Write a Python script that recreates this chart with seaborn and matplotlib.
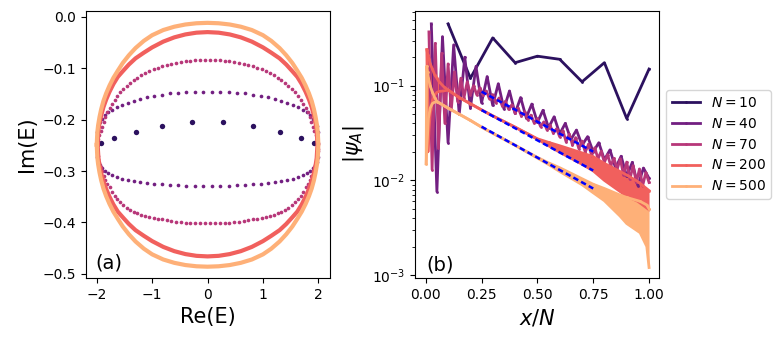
import numpy as np
import matplotlib
matplotlib.use("Agg")
import matplotlib.pyplot as plt
import seaborn as sns

# ---------------- (a) spectrum, values ----------------
re10 = [-1.92, -1.68, -1.30, -0.82, -0.28, 0.28, 0.82, 1.30, 1.68, 1.92]
im10 = [-0.246, -0.236, -0.2235, -0.2125, -0.2055, -0.2055, -0.2125, -0.2235, -0.236, -0.246]

# right half (Re > 0) of the two arcs, left half is the mirror image
re40 = [0.077, 0.230, 0.381, 0.530, 0.680, 0.821, 0.958, 1.089, 1.214, 1.331,
        1.441, 1.543, 1.636, 1.719, 1.792, 1.855, 1.907, 1.947, 1.977, 1.994]
im40_up = [-0.1457, -0.1457, -0.1463, -0.1476, -0.149, -0.1515, -0.1534, -0.1567, -0.160, -0.163,
           -0.167, -0.1716, -0.1755, -0.1806, -0.1858, -0.1916, -0.198, -0.2046, -0.2117, -0.225]
im40_dn = [-0.329, -0.329, -0.3284, -0.3277, -0.3271, -0.3258, -0.3245, -0.3232, -0.3219, -0.320,
           -0.318, -0.3155, -0.3122, -0.3083, -0.3038, -0.2993, -0.2941, -0.2883, -0.2831, -0.272]

re70 = [0.044, 0.133, 0.221, 0.308, 0.396, 0.482, 0.567, 0.652, 0.735, 0.816,
        0.895, 0.974, 1.050, 1.124, 1.196, 1.266, 1.333, 1.398, 1.460, 1.520,
        1.575, 1.628, 1.678, 1.725, 1.768, 1.807, 1.843, 1.876, 1.905, 1.930,
        1.951, 1.969, 1.982, 1.992, 1.998]
im70_up = [-0.084, -0.0843, -0.0848, -0.0855, -0.0865, -0.088, -0.0895, -0.0915, -0.0935, -0.0965,
           -0.0995, -0.1025, -0.106, -0.110, -0.114, -0.119, -0.124, -0.129, -0.135, -0.141,
           -0.147, -0.154, -0.162, -0.169, -0.178, -0.185, -0.195, -0.205, -0.215, -0.223,
           -0.230, -0.237, -0.241, -0.246, -0.248]
im70_dn = [-0.402, -0.4018, -0.4015, -0.401, -0.4003, -0.3995, -0.3985, -0.397, -0.3955, -0.394,
           -0.3925, -0.391, -0.389, -0.387, -0.385, -0.382, -0.379, -0.375, -0.371, -0.366,
           -0.360, -0.354, -0.349, -0.340, -0.332, -0.325, -0.318, -0.309, -0.300, -0.292,
           -0.285, -0.277, -0.270, -0.262, -0.257]

# N=200 and N=500 are so dense they look like closed rings (right half)
re200 = [0.0, 0.2, 0.4, 0.6, 0.8, 1.0, 1.15, 1.3, 1.42, 1.53,
         1.62, 1.7, 1.77, 1.83, 1.88, 1.92, 1.95, 1.97, 1.985]
im200_up = [-0.030, -0.0311, -0.0345, -0.0402, -0.0485, -0.0597, -0.070, -0.081, -0.093, -0.106,
            -0.117, -0.131, -0.146, -0.161, -0.176, -0.192, -0.207, -0.221, -0.248]
im200_dn = [-0.466, -0.4649, -0.4615, -0.4558, -0.4475, -0.4363, -0.426, -0.415, -0.403, -0.390,
            -0.379, -0.365, -0.350, -0.335, -0.320, -0.304, -0.289, -0.275, -0.248]
re500 = [0.0, 0.2, 0.4, 0.6, 0.8, 1.0, 1.15, 1.3, 1.42, 1.53,
         1.62, 1.7, 1.77, 1.83, 1.88, 1.92, 1.95, 1.975, 1.99, 2.0]
im500_up = [-0.012, -0.0128, -0.0152, -0.0195, -0.026, -0.036, -0.047, -0.061, -0.075, -0.090,
            -0.105, -0.119, -0.134, -0.149, -0.164, -0.180, -0.195, -0.211, -0.225, -0.249]
im500_dn = [-0.486, -0.4852, -0.4828, -0.4785, -0.472, -0.462, -0.451, -0.437, -0.423, -0.408,
            -0.393, -0.379, -0.364, -0.349, -0.334, -0.318, -0.303, -0.287, -0.273, -0.249]

# ---------------- (b) |psi_A| profiles ----------------
x10 = [0.1, 0.2, 0.3, 0.4, 0.5, 0.6, 0.7, 0.8, 0.9, 1.0]
psi10 = [0.45, 0.12, 0.32, 0.175, 0.205, 0.19, 0.11, 0.175, 0.045, 0.15]

psi40 = [0.45, 0.0076, 0.33, 0.025, 0.27, 0.05, 0.20, 0.058, 0.16, 0.066,
         0.125, 0.062, 0.105, 0.057, 0.088, 0.051, 0.075, 0.046, 0.064, 0.041,
         0.055, 0.036, 0.047, 0.031, 0.040, 0.027, 0.034, 0.0235, 0.029, 0.020,
         0.025, 0.0165, 0.021, 0.0135, 0.018, 0.011, 0.0155, 0.0088, 0.0135, 0.0105]

psi70 = [0.37, 0.013, 0.28, 0.022, 0.22, 0.04, 0.17, 0.055, 0.14, 0.068,
         0.12, 0.075, 0.11, 0.08, 0.10, 0.08, 0.095, 0.079, 0.0878, 0.0721,
         0.0807, 0.0664, 0.0743, 0.0611, 0.0684, 0.0562, 0.0629, 0.0517, 0.0578, 0.0476,
         0.0532, 0.0437, 0.0489, 0.0403, 0.0450, 0.0370, 0.0415, 0.0341, 0.0381, 0.0314,
         0.0351, 0.0288, 0.0335, 0.0255, 0.0308, 0.0236, 0.0283, 0.0216, 0.0260, 0.0199,
         0.0240, 0.0183, 0.0221, 0.0169, 0.0203, 0.0155, 0.0187, 0.0143, 0.0171, 0.0131,
         0.0169, 0.0113, 0.0156, 0.0103, 0.0143, 0.0095, 0.0132, 0.0088, 0.0121, 0.0095]

# N=200 / N=500 oscillate too fast to resolve: upper and lower envelope
x200 = [0.005, 0.01, 0.015, 0.02, 0.03, 0.04, 0.05, 0.06, 0.08, 0.1, 0.15, 0.2,
        0.25, 0.3, 0.4, 0.5, 0.55, 0.6, 0.7, 0.75, 0.8, 0.9, 0.95, 1.0]
hi200 = [0.24, 0.21, 0.19, 0.17, 0.15, 0.13, 0.12, 0.11, 0.098, 0.09, 0.075, 0.0645,
         0.0555, 0.048, 0.0365, 0.0275, 0.0252, 0.0232, 0.0195, 0.0178, 0.0151, 0.0114, 0.0097, 0.0078]
lo200 = [0.24, 0.02, 0.035, 0.05, 0.07, 0.08, 0.085, 0.087, 0.088, 0.09, 0.075, 0.0645,
         0.0555, 0.048, 0.0365, 0.0272, 0.0232, 0.0198, 0.0148, 0.0126, 0.0100, 0.0068, 0.006, 0.0049]

x500 = [0.002, 0.004, 0.008, 0.012, 0.02, 0.03, 0.04, 0.05, 0.1, 0.15, 0.2, 0.25, 0.3,
        0.4, 0.5, 0.55, 0.6, 0.7, 0.75, 0.8, 0.87, 0.9, 0.96, 0.99, 1.0]
hi500 = [0.015, 0.16, 0.14, 0.12, 0.10, 0.085, 0.075, 0.068, 0.058, 0.050, 0.043, 0.0365, 0.0315,
         0.0235, 0.0175, 0.0153, 0.0136, 0.0104, 0.0091, 0.0082, 0.0070, 0.0066, 0.006, 0.0055, 0.005]
lo500 = [0.015, 0.02, 0.03, 0.045, 0.058, 0.065, 0.067, 0.068, 0.058, 0.050, 0.043, 0.0365, 0.0315,
         0.0235, 0.0172, 0.0147, 0.0124, 0.0090, 0.0074, 0.0061, 0.0042, 0.0035, 0.0028, 0.002, 0.0012]

# exponential fits (blue dashed)
fit_x = [0.25, 0.75]
fit_top = [0.0865, 0.0201]
fit_mid = [0.0553, 0.0127]
fit_bot = [0.0369, 0.0082]

labels = ["$N=10$", "$N=40$", "$N=70$", "$N=200$", "$N=500$"]
pal = sns.color_palette("magma", 5)


def mirror(re_half, im_half):
    re_half = np.asarray(re_half)
    im_half = np.asarray(im_half)
    return np.concatenate([-re_half[::-1], re_half]), np.concatenate([im_half[::-1], im_half])


def ring(r, up, dn):
    r = np.asarray(r)
    up = np.asarray(up)
    dn = np.asarray(dn)
    xs = np.concatenate([-r[:0:-1], r, r[-2::-1], -r[1:]])
    ys = np.concatenate([up[:0:-1], up, dn[-2::-1], dn[1:]])
    return xs, ys


fig, (ax1, ax2) = plt.subplots(1, 2, figsize=(7.81, 3.42), dpi=100)
fig.subplots_adjust(left=0.1097, right=0.8442, bottom=0.1871, top=0.9678, wspace=0.348)

# ---- panel (a)
sns.scatterplot(x=re10, y=im10, s=15, color=pal[0], linewidth=0, ax=ax1)
for re_h, up, dn, col in [(re40, im40_up, im40_dn, pal[1]), (re70, im70_up, im70_dn, pal[2])]:
    xu, yu = mirror(re_h, up)
    xd, yd = mirror(re_h, dn)
    sns.scatterplot(x=np.concatenate([xu, xd]), y=np.concatenate([yu, yd]),
                    s=7, color=col, linewidth=0, ax=ax1)
for r, up, dn, col in [(re200, im200_up, im200_dn, pal[3]), (re500, im500_up, im500_dn, pal[4])]:
    xs, ys = ring(r, up, dn)
    sns.lineplot(x=xs, y=ys, sort=False, estimator=None, color=col, lw=3.0, ax=ax1)

ax1.set_xlim(-2.2, 2.21)
ax1.set_ylim(-0.508, 0.011)
ax1.set_xticks([-2, -1, 0, 1, 2])
ax1.set_yticks([-0.5, -0.4, -0.3, -0.2, -0.1, 0.0])
ax1.set_xlabel("Re(E)", fontsize=15)
ax1.set_ylabel("Im(E)", fontsize=15)
ax1.text(0.04, 0.035, "(a)", transform=ax1.transAxes, fontsize=14)

# ---- panel (b)
ax2.set_yscale("log")
sns.lineplot(x=x10, y=psi10, color=pal[0], lw=2, marker=".", ms=4, mew=0,
             label=labels[0], ax=ax2)
sns.lineplot(x=np.arange(1, 41) / 40, y=psi40, color=pal[1], lw=2, marker=".", ms=4, mew=0,
             label=labels[1], ax=ax2)
sns.lineplot(x=np.arange(1, 71) / 70, y=psi70, color=pal[2], lw=2, marker=".", ms=4, mew=0,
             label=labels[2], ax=ax2)
for xs, hi, lo, col, lab in [(x200, hi200, lo200, pal[3], labels[3]),
                             (x500, hi500, lo500, pal[4], labels[4])]:
    ax2.fill_between(xs, lo, hi, color=col, lw=0)
    sns.lineplot(x=xs, y=hi, color=col, lw=2, marker=".", ms=4, mew=0, label=lab, ax=ax2)
    sns.lineplot(x=xs, y=lo, color=col, lw=2, ax=ax2)
for fy in [fit_top, fit_mid, fit_bot]:
    ax2.plot(fit_x, fy, color="blue", lw=1.8, dashes=(2.2, 1.3))

ax2.set_xlim(-0.048, 1.046)
ax2.set_ylim(9.3e-4, 0.615)
ax2.set_xticks([0.0, 0.25, 0.5, 0.75, 1.0])
ax2.set_xlabel("$x/N$", fontsize=15)
ax2.set_ylabel(r"$|\psi_A|$", fontsize=15)
ax2.text(0.045, 0.03, "(b)", transform=ax2.transAxes, fontsize=14)
ax2.legend(loc="center left", bbox_to_anchor=(1.0, 0.5), fontsize=10)

fig.savefig("out.png", dpi=100)
